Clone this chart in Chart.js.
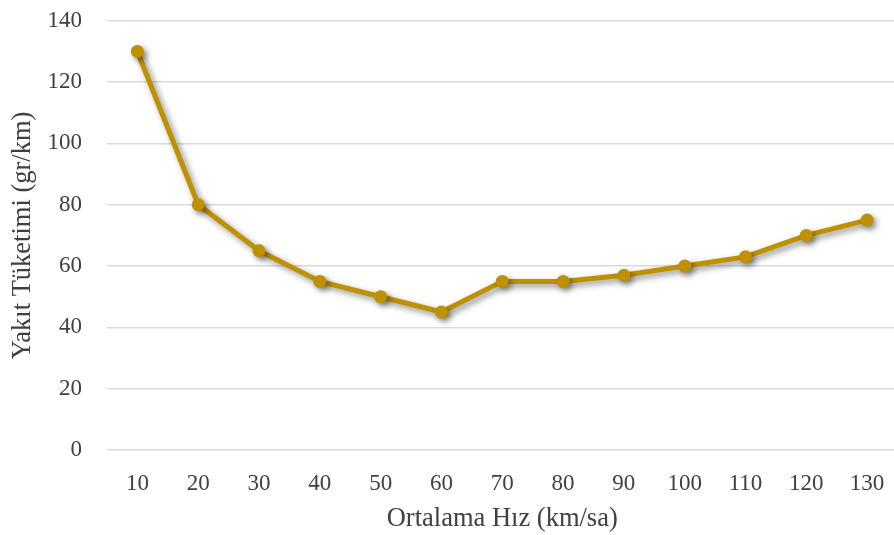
<!DOCTYPE html>
<html lang="tr">
<head>
  <meta charset="UTF-8" />
  <title>Yakıt Tüketimi - Ortalama Hız</title>
  <script src="https://cdn.jsdelivr.net/npm/chart.js"></script>
  <style>
    html, body {
      margin: 0;
      padding: 0;
      background: #ffffff;
      overflow: hidden;
    }

    /* grafik alanı pencereden biraz taşıyor (sağ ve üst kenar) */
    #chart-container {
      width: 904px;
      height: 553px;
      margin-top: -18px;
    }
  </style>
</head>
<body>
  <div id="chart-container">
    <canvas id="myChart"></canvas>
  </div>

  <script>
    // hız (km/sa) ve yakıt tüketimi (gr/km)
    const speeds = ['10', '20', '30', '40', '50', '60', '70', '80', '90', '100', '110', '120', '130'];
    const consumption = [130, 80, 65, 55, 50, 45, 55, 55, 57, 60, 63, 70, 75];
    const yTicks = [0, 20, 40, 60, 80, 100, 120, 140];

    const lineColor = '#bf9000';
    const serif = "'Liberation Serif', 'Times New Roman', serif";

    // gölge efekti (Excel benzeri)
    const shadowPlugin = {
      id: 'lineShadow',
      beforeDatasetsDraw(chart) {
        const c = chart.ctx;
        c.save();
        c.shadowColor = 'rgba(0, 0, 0, 0.45)';
        c.shadowBlur = 6;
        c.shadowOffsetX = 3;
        c.shadowOffsetY = 3;
      },
      afterDatasetsDraw(chart) {
        chart.ctx.restore();
      }
    };

    const ctx = document.getElementById('myChart').getContext('2d');

    new Chart(ctx, {
      type: 'line',
      data: {
        labels: speeds,
        datasets: [{
          label: 'Yakıt Tüketimi',
          data: consumption,
          borderColor: lineColor,
          backgroundColor: lineColor,
          borderWidth: 5,
          pointRadius: 6.5,
          pointHoverRadius: 6.5,
          pointBackgroundColor: lineColor,
          pointBorderColor: lineColor,
          pointBorderWidth: 0,
          tension: 0
        }]
      },
      options: {
        responsive: true,
        maintainAspectRatio: false,
        animation: false,
        layout: {
          padding: { top: 0, left: 0, right: 0, bottom: 0 }
        },
        scales: {
          x: {
            offset: true,
            afterFit: axis => { axis.height = 85; },
            grid: { display: false },
            border: { display: false },
            ticks: {
              color: '#404040',
              padding: 12,
              maxRotation: 0,
              font: { family: serif, size: 23 }
            },
            title: {
              display: true,
              text: 'Ortalama Hız (km/sa)',
              color: '#404040',
              padding: { top: 0, bottom: 0 },
              font: { family: serif, size: 26.5 }
            }
          },
          y: {
            min: 0,
            max: 140,
            afterFit: axis => { axis.width = 107; },
            afterBuildTicks: axis => {
              axis.ticks = yTicks.map(v => ({ value: v }));
            },
            grid: {
              color: '#d9d9d9',
              lineWidth: 1.5,
              drawTicks: false
            },
            border: { display: false },
            ticks: {
              color: '#404040',
              padding: 25,
              font: { family: serif, size: 23 }
            },
            title: {
              display: true,
              text: 'Yakıt Tüketimi (gr/km)',
              color: '#404040',
              padding: { top: 7, bottom: 0 },
              font: { family: serif, size: 26.5 }
            }
          }
        },
        plugins: {
          legend: { display: false },
          tooltip: { enabled: false }
        }
      },
      plugins: [shadowPlugin]
    });
  </script>
</body>
</html>
